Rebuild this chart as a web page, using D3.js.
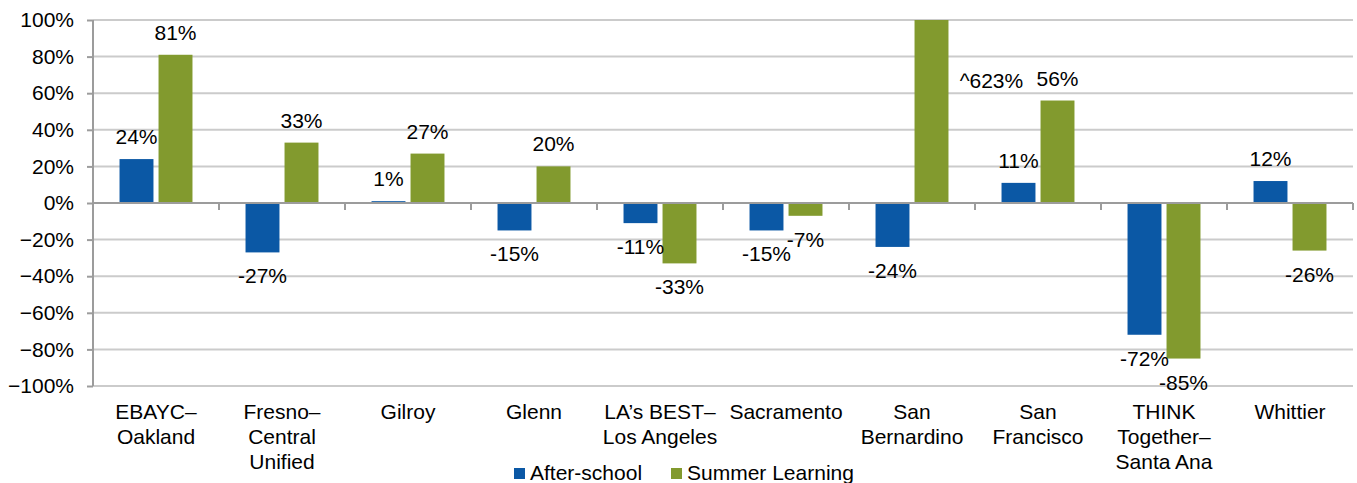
<!DOCTYPE html>
<html>
<head>
<meta charset="utf-8">
<script src="https://cdn.jsdelivr.net/npm/d3@7"></script>
<style>
  body { margin: 0; background: #fff; }
  text { font-family: "Liberation Sans", Arial, sans-serif; fill: #000; }
</style>
</head>
<body>
<div id="wrapper"></div>
<script>
// data
const categories = [
    ["EBAYC–", "Oakland"],
    ["Fresno–", "Central", "Unified"],
    ["Gilroy"],
    ["Glenn"],
    ["LA’s BEST–", "Los Angeles"],
    ["Sacramento"],
    ["San", "Bernardino"],
    ["San", "Francisco"],
    ["THINK", "Together–", "Santa Ana"],
    ["Whittier"]
]
const afterSchool = [0.24, -0.27, 0.01, -0.15, -0.11, -0.15, -0.24, 0.11, -0.72, 0.12]
const summerLearning = [0.81, 0.33, 0.27, 0.20, -0.33, -0.07, 6.23, 0.56, -0.85, -0.26]
const seriesNames = ["After-school", "Summer Learning"]
const yTicks = [1, 0.8, 0.6, 0.4, 0.2, 0, -0.2, -0.4, -0.6, -0.8, -1]

const colors = ["#0b58a5", "#829a2e"]

let dimensions = {
    width: 1357,
    height: 483,
    margin: {
        top: 20,
        right: 4,
        bottom: 97,
        left: 93,
    },
}
dimensions.boundedWidth = dimensions.width
    - dimensions.margin.left
    - dimensions.margin.right
dimensions.boundedHeight = dimensions.height
    - dimensions.margin.top
    - dimensions.margin.bottom

const wrapper = d3.select("#wrapper")
    .append("svg")
    .attr("width", dimensions.width)
    .attr("height", dimensions.height)

const bounds = wrapper.append("g")
    .attr("transform", `translate(${dimensions.margin.left},${dimensions.margin.top})`)

const xScaler = d3.scaleBand()
    .domain(d3.range(categories.length))
    .range([0, dimensions.boundedWidth])

const innerScaler = d3.scaleBand()
    .domain([0, 1])
    .range([0, xScaler.bandwidth()])
    .paddingInner(0.13)
    .paddingOuter(0.68)

const yScaler = d3.scaleLinear()
    .domain([-1, 1])
    .range([dimensions.boundedHeight, 0])

const fmt = d => Math.round(d * 100) + "%"
const fontSize = "21px"

// gridlines
bounds.append("g")
    .selectAll("line")
    .data(yTicks)
    .enter()
    .append("line")
    .attr("x1", 0)
    .attr("x2", dimensions.boundedWidth)
    .attr("y1", d => yScaler(d))
    .attr("y2", d => yScaler(d))
    .attr("stroke", "#cbcbcb")
    .attr("stroke-width", 2)

// y axis
const yAxisGen = d3.axisLeft(yScaler)
    .tickValues(yTicks)
    .tickFormat(d3.format(".0%"))
    .tickSize(6)
    .tickPadding(13)
const yAxis = bounds.append("g").call(yAxisGen)
yAxis.select(".domain")
    .attr("stroke", "#9c9c9c")
    .attr("stroke-width", 2)
    .attr("d", `M0,${yScaler(1)}V${yScaler(-1)}`)
yAxis.selectAll(".tick line").attr("stroke", "#9c9c9c").attr("stroke-width", 2)
yAxis.selectAll(".tick text")
    .attr("font-size", fontSize)
    .attr("fill", "#000")

// bars
const series = [afterSchool, summerLearning]
const bars = []
series.forEach((values, s) => {
    values.forEach((v, i) => bars.push({ s, i, v }))
})
const clip = v => Math.max(-1, Math.min(1, v))

bounds.append("g")
    .selectAll("rect")
    .data(bars)
    .enter()
    .append("rect")
    .attr("x", d => xScaler(d.i) + innerScaler(d.s))
    .attr("width", innerScaler.bandwidth())
    .attr("y", d => yScaler(Math.max(0, clip(d.v))))
    .attr("height", d => Math.abs(yScaler(clip(d.v)) - yScaler(0)))
    .attr("fill", d => colors[d.s])

// zero line with category ticks
const zeroY = yScaler(0)
bounds.append("line")
    .attr("x1", 0)
    .attr("x2", dimensions.boundedWidth)
    .attr("y1", zeroY)
    .attr("y2", zeroY)
    .attr("stroke", "#9c9c9c")
    .attr("stroke-width", 2)
bounds.append("g")
    .selectAll("line")
    .data(d3.range(1, categories.length + 1))
    .enter()
    .append("line")
    .attr("x1", d => d * xScaler.step())
    .attr("x2", d => d * xScaler.step())
    .attr("y1", zeroY)
    .attr("y2", zeroY + 7)
    .attr("stroke", "#9c9c9c")
    .attr("stroke-width", 2)

// value labels (the clipped bar gets its label beside it)
bounds.append("g")
    .selectAll("text")
    .data(bars)
    .enter()
    .append("text")
    .attr("x", d => {
        const cx = xScaler(d.i) + innerScaler(d.s) + innerScaler.bandwidth() / 2
        return d.v > 1 ? cx + innerScaler.bandwidth() + 26 : cx
    })
    .attr("y", d => {
        if (d.v > 1) return yScaler(0.63)
        return d.v >= 0 ? yScaler(d.v) - 15 : yScaler(d.v) + 31
    })
    .attr("text-anchor", "middle")
    .attr("font-size", fontSize)
    .text(d => (d.v > 1 ? "^" : "") + fmt(d.v))

// category labels
const catLabels = bounds.append("g")
    .selectAll("text")
    .data(categories)
    .enter()
    .append("text")
    .attr("x", (d, i) => xScaler(i) + xScaler.bandwidth() / 2)
    .attr("y", dimensions.boundedHeight + 33)
    .attr("text-anchor", "middle")
    .attr("font-size", fontSize)
catLabels.selectAll("tspan")
    .data(d => d)
    .enter()
    .append("tspan")
    .attr("x", function () { return d3.select(this.parentNode).attr("x") })
    .attr("dy", (d, j) => j === 0 ? 0 : 25)
    .text(d => d)

// legend
const legend = wrapper.append("g")
    .attr("transform", "translate(514,468)")
const legendX = [0, 157]
seriesNames.forEach((name, s) => {
    legend.append("rect")
        .attr("x", legendX[s])
        .attr("y", 0)
        .attr("width", 11)
        .attr("height", 11)
        .attr("fill", colors[s])
    legend.append("text")
        .attr("x", legendX[s] + 16)
        .attr("y", 12)
        .attr("font-size", fontSize)
        .text(name)
})
</script>
</body>
</html>
